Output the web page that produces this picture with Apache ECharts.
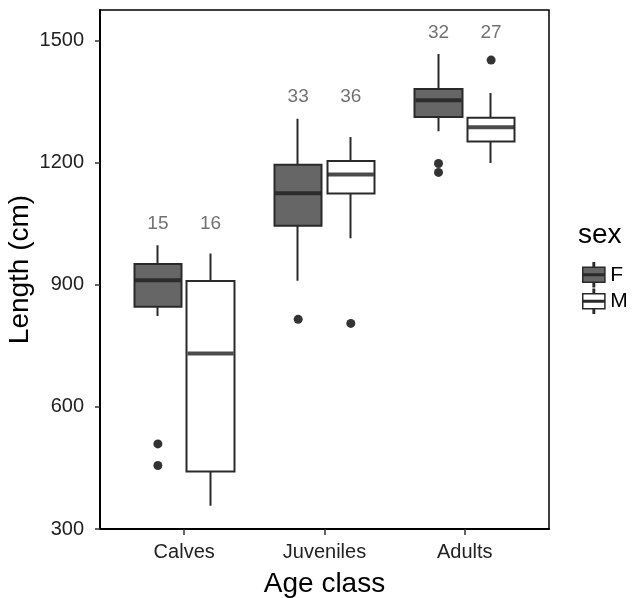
<!DOCTYPE html>
<html>
<head>
<meta charset="utf-8">
<script src="https://cdn.jsdelivr.net/npm/echarts@6/dist/echarts.min.js"></script>
<style>
  html, body { margin: 0; padding: 0; background: #fff; }
  #chart { width: 644px; height: 598px; }
</style>
</head>
<body>
<div id="chart"></div>
<script>
const ageClasses = ['Calves', 'Juveniles', 'Adults']
const sexes = ['F', 'M']
// [min, Q1, median, Q3, max] for each age class
const femaleBoxes = [
  [823, 846, 911, 951, 997],
  [910, 1045, 1125, 1195, 1308],
  [1277, 1312, 1353, 1381, 1467],
]
const maleBoxes = [
  [357, 441, 731, 909, 977],
  [1014, 1124, 1171, 1204, 1263],
  [1199, 1252, 1287, 1310, 1371],
]
// [age class index, length]
const femaleOutliers = [[0, 509], [0, 456], [1, 815], [2, 1198], [2, 1176]]
const maleOutliers = [[1, 805], [2, 1452]]
const femaleCounts = [15, 33, 32]
const maleCounts = [16, 36, 27]
const yTicks = [300, 600, 900, 1200, 1500]

const dodge = 0.1875
const labelLift = 53
const fontFamily = "'Liberation Sans', Arial, sans-serif"
const fills = { F: '#666666', M: '#ffffff' }
const edge = '#2a2a2a'
const xPos = (i, sex) => i + 1 + (sex === 'F' ? -dodge : dodge)

// legend key: whiskers, box and median bar
const keyIcon = 'path://M11.25 0h1.5v5h-1.5Z M0 5h24v16h-24Z M0 12.25h24v1.5h-24Z M11.25 21h1.5v5h-1.5Z'

function groupTop(i) {
  const vals = [femaleBoxes[i][4], maleBoxes[i][4]]
  femaleOutliers.concat(maleOutliers).forEach(o => { if (o[0] === i) vals.push(o[1]) })
  return Math.max(...vals)
}

// box from Q1 to Q3, whiskers min..max, no caps (like ggplot)
const boxSeries = (name, boxes) => ({
  name,
  type: 'candlestick',
  barWidth: 48,
  barMaxWidth: 48,
  itemStyle: {
    color: fills[name], color0: fills[name],
    borderColor: edge, borderColor0: edge, borderWidth: 2,
  },
  emphasis: { disabled: true },
  data: boxes.map((b, i) => [xPos(i, name), b[1], b[3], b[0], b[4]]),
})

const chart = echarts.init(document.getElementById('chart'))
chart.setOption({
  animation: false,
  textStyle: { fontFamily },
  title: {
    text: 'sex',
    left: 578,
    top: 221,
    padding: 0,
    textStyle: { fontSize: 28, fontWeight: 'normal', color: '#000', fontFamily },
  },
  legend: {
    data: sexes.map(s => ({
      name: s,
      itemStyle: { color: fills[s], borderColor: edge, borderWidth: 1.5 },
    })),
    orient: 'vertical',
    left: 582,
    top: 262,
    padding: 0,
    itemWidth: 23,
    itemHeight: 24,
    itemGap: 1,
    icon: keyIcon,
    textStyle: { fontSize: 21, color: '#000', fontFamily },
  },
  grid: {
    left: 100, right: 95, top: 10, bottom: 69,
    show: true, borderColor: '#000', borderWidth: 1.5,
    outerBoundsMode: 'none',
  },
  xAxis: {
    type: 'value',
    min: 0.4,
    max: 3.6,
    name: 'Age class',
    nameLocation: 'middle',
    nameGap: 41,
    nameMoveOverlap: false,
    nameTextStyle: { fontSize: 28, color: '#000', fontFamily },
    axisLine: { onZero: false, lineStyle: { color: '#000', width: 2 } },
    axisTick: { customValues: [1, 2, 3], length: 6, lineStyle: { color: '#333', width: 1.5 } },
    axisLabel: {
      customValues: [1, 2, 3],
      formatter: v => ageClasses[Math.round(v) - 1],
      fontSize: 20, color: '#222', margin: 13,
    },
    splitLine: { show: false },
  },
  yAxis: {
    type: 'value',
    min: 300,
    max: 1575,
    name: 'Length (cm)',
    nameLocation: 'middle',
    nameRotate: 90,
    nameGap: 66,
    nameMoveOverlap: false,
    nameTextStyle: { fontSize: 28, color: '#000', fontFamily },
    axisLine: { show: true, lineStyle: { color: '#000', width: 2 } },
    axisTick: { show: true, customValues: yTicks, length: 5, lineStyle: { color: '#333', width: 1.5 } },
    axisLabel: { customValues: yTicks, formatter: v => String(v), fontSize: 20, color: '#222', margin: 16 },
    splitLine: { show: false },
  },
  series: [
    boxSeries('F', femaleBoxes),
    boxSeries('M', maleBoxes),
    {
      type: 'scatter',
      silent: true,
      symbol: 'rect',
      symbolSize: [46, 4],
      itemStyle: { color: '#1e1e1e' },
      z: 3,
      data: femaleBoxes.map((b, i) => [xPos(i, 'F'), b[2]])
        .concat(maleBoxes.map((b, i) => [xPos(i, 'M'), b[2]])),
    },
    {
      type: 'scatter',
      silent: true,
      symbolSize: 9,
      itemStyle: { color: '#000' },
      data: femaleOutliers.map(o => [xPos(o[0], 'F'), o[1]])
        .concat(maleOutliers.map(o => [xPos(o[0], 'M'), o[1]])),
    },
    {
      type: 'scatter',
      silent: true,
      symbolSize: 0,
      label: {
        show: true,
        position: 'inside',
        formatter: p => p.value[2],
        fontSize: 19,
        color: '#4d4d4d',
        fontFamily,
      },
      data: femaleCounts.map((n, i) => [xPos(i, 'F'), groupTop(i) + labelLift, n])
        .concat(maleCounts.map((n, i) => [xPos(i, 'M'), groupTop(i) + labelLift, n])),
    },
  ],
})
</script>
</body>
</html>
